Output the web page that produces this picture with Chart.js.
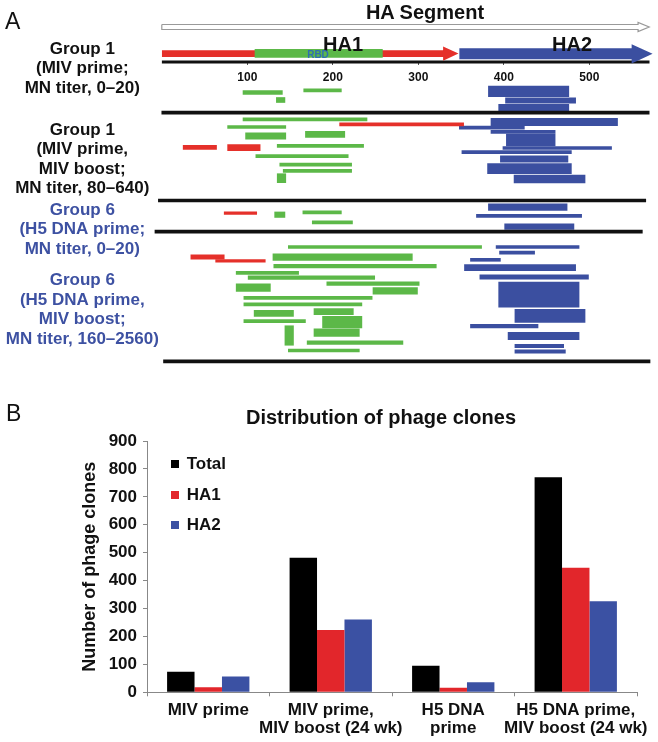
<!DOCTYPE html>
<html>
<head>
<meta charset="utf-8">
<script src="https://cdn.jsdelivr.net/npm/chart.js@4.4.1/dist/chart.umd.min.js"></script>
<style>
  html, body { margin: 0; padding: 0; background: #fff; width: 658px; height: 742px; overflow: hidden; }
  body { position: relative; font-family: "Liberation Sans", Arial, sans-serif; color: #111; }
  #mapBox { position: absolute; left: 0; top: 0; width: 658px; height: 370px; }
  #barBox { position: absolute; left: 0; top: 370px; width: 700px; height: 372px; }
  .note { position: absolute; white-space: nowrap; }
  .mid { transform: translateX(-50%); }
  #legend { position: absolute; left: 171px; top: 455px; font-weight: bold; font-size: 17px; }
  #legend div { height: 17px; line-height: 17px; margin-bottom: 13.5px; white-space: nowrap; }
  #legend span { display: inline-block; width: 8px; height: 8px; margin-right: 7.7px; vertical-align: 1px; }
</style>
</head>
<body>
<div id="mapBox"><canvas id="mapChart"></canvas></div>
<div id="barBox"><canvas id="barChart"></canvas></div>

<div class="note" style="left:5px;top:10px;font-size:23px;line-height:23px">A</div>
<div class="note" style="left:6px;top:402px;font-size:23px;line-height:23px">B</div>
<div class="note mid" style="left:425px;top:2px;font-size:20px;line-height:20px;font-weight:bold">HA Segment</div>
<div class="note mid" style="left:343px;top:34px;font-size:20px;line-height:20px;font-weight:bold">HA1</div>
<div class="note mid" style="left:572px;top:34px;font-size:20px;line-height:20px;font-weight:bold">HA2</div>
<div class="note mid" style="left:318px;top:50px;font-size:10px;line-height:10px;font-weight:bold;color:#2f6fb0">RBD</div>
<div id="legend"></div>

<script>
// ---- Panel A: HA segment map ----
const mapTicks = [100, 200, 300, 400, 500];
const mapMax = 576;

// domains along the HA segment (residues)
const haSegment = [0, 570];
const ha1Domain = [0, 347];
const rbdDomain = [109, 258];
const ha2Domain = [348, 574];

// group labels and the row they are centred on
const groupNames = [
    ['Group 1', '(MIV prime;', 'MN titer, 0–20)'],
    ['Group 1', '(MIV prime,', 'MIV boost;', 'MN titer, 80–640)'],
    ['Group 6', '(H5 DNA prime;', 'MN titer, 0–20)'],
    ['Group 6', '(H5 DNA prime,', 'MIV boost;', 'MN titer, 160–2560)']
];
const groupRows = [68.5, 159.3, 229.5, 310];
const groupIsDna = [false, false, true, true];

// dividers between groups: [from, to, row]
const dividers = [[0, 570, 112.7], [-4, 566, 200.5], [-8, 562, 231.7], [2, 571, 361.3]];

// mapped phage clones: [from residue, to residue, row, weight]
const ha1Clones = [
    // group 1, MIV prime + boost
    [208, 353, 124.3, 3], [25, 64, 147.3, 4], [77, 115, 147.7, 6],
    // group 6, DNA prime
    [73, 111, 213.2, 2.5],
    // group 6, DNA prime + MIV boost
    [34, 73, 257, 4.5], [63, 121, 260.8, 2.5]
];
const rbdClones = [
    // group 1, MIV prime
    [95, 141, 92.5, 4], [166, 210, 90.3, 3], [134, 144, 100, 5],
    // group 1, MIV prime + boost
    [95, 240, 119.3, 3], [77, 145, 127, 3], [98, 145, 136, 6.5], [168, 214, 134.3, 6],
    [135, 236, 145.8, 3], [110, 218, 156.2, 3], [138, 222, 164.7, 3], [142, 222, 170.8, 3],
    [135, 145, 178.2, 9],
    // group 6, DNA prime
    [132, 144, 214.7, 5.5], [165, 210, 212.3, 3], [176, 223, 222.3, 3],
    // group 6, DNA prime + MIV boost
    [148, 374, 247, 3], [130, 293, 257.2, 6.5], [131, 321, 266.2, 3.5], [87, 160, 272.8, 3],
    [101, 249, 277.7, 3.5], [193, 301, 283.7, 3.5], [87, 127, 287.7, 7.5], [247, 299, 290.8, 6.5],
    [96, 246, 297.8, 3], [96, 234, 304.3, 3], [108, 154, 313.3, 6], [178, 224, 311.7, 6],
    [96, 168, 321.2, 3], [188, 234, 322.2, 11.5], [144, 154, 335.5, 19.5], [178, 231, 332.7, 7.5],
    [170, 282, 342.7, 3.5], [148, 231, 350.5, 3]
];
const ha2Clones = [
    // group 1, MIV prime
    [382, 476, 91.3, 10.5], [402, 484, 100.5, 5.5], [394, 476, 107.7, 6.5],
    // group 1, MIV prime + boost
    [385, 533, 122, 7.5], [348, 424, 127.7, 3], [385, 460, 131.8, 3], [403, 460, 140, 12],
    [399, 526, 148, 3], [351, 479, 152.2, 3], [396, 475, 159, 6.5], [381, 479, 168.7, 10],
    [412, 495, 179, 8],
    // group 6, DNA prime
    [382, 474, 207.2, 6.5], [368, 491, 215.8, 3], [401, 482, 226.7, 5.5],
    // group 6, DNA prime + MIV boost
    [391, 488, 247, 3], [395, 436, 252.7, 3], [361, 396, 259.8, 3], [354, 484, 267.7, 6],
    [372, 499, 277, 4.5], [394, 488, 294.7, 25], [413, 495, 315.8, 13], [361, 440, 326.2, 3.5],
    [405, 488, 336, 7.5], [413, 470, 346, 3.5], [413, 472, 351.5, 3.5]
];

// ---- Panel B: distribution of phage clones ----
const regimens = [
    ['MIV prime'],
    ['MIV prime,', 'MIV boost (24 wk)'],
    ['H5 DNA', 'prime'],
    ['H5 DNA prime,', 'MIV boost (24 wk)']
];
const totalClones = [74, 482, 95, 770];
const ha1Counts = [18, 223, 16, 446];
const ha2Counts = [57, 261, 36, 326];
const countMax = 900;
const countStep = 100;

const RED = '#e5302a';
const GREEN = '#5cb848';
const BLUE = '#3b4fa0';
const DNA_TEXT = '#3d51a2';

Chart.defaults.font.family = '"Liberation Sans", Arial, sans-serif';
Chart.defaults.color = '#111';

// one bar dataset per line weight (bar thickness is per dataset)
function cloneSets(list, color) {
    const byWeight = new Map();
    list.forEach(([from, to, row, weight]) => {
        if (!byWeight.has(weight)) byWeight.set(weight, []);
        byWeight.get(weight).push({ x: [from, to], y: row });
    });
    return [...byWeight].map(([weight, data]) => ({
        type: 'bar', data, backgroundColor: color, barThickness: weight,
        grouped: false, borderWidth: 0, clip: false
    }));
}

// closed arrow outline for a domain
function arrowShape(range, mid, shaftHalf, headHalf, headLen) {
    const [from, to] = range;
    const base = to - headLen;
    return [
        { x: from, y: mid - shaftHalf }, { x: base, y: mid - shaftHalf }, { x: base, y: mid - headHalf },
        { x: to, y: mid }, { x: base, y: mid + headHalf }, { x: base, y: mid + shaftHalf },
        { x: from, y: mid + shaftHalf }, { x: from, y: mid - shaftHalf }
    ];
}

function shapeSet(points, fillColor, lineColor, lineWidth) {
    return {
        type: 'line', data: points, fill: 'shape', backgroundColor: fillColor,
        borderColor: lineColor, borderWidth: lineWidth, pointRadius: 0, tension: 0, clip: false
    };
}

const mapDatasets = [
    { type: 'bar', data: [{ x: rbdDomain, y: 53.3 }], backgroundColor: GREEN, barThickness: 8, grouped: false, borderWidth: 0 },
    shapeSet(arrowShape(ha1Domain, 53.6, 3.4, 7.2, 18), RED, RED, 0),
    shapeSet(arrowShape(ha2Domain, 53.8, 5.5, 9.6, 24.5), BLUE, BLUE, 0),
    shapeSet(arrowShape(haSegment, 27, 2.5, 4.5, 13), '#fff', '#9a9a9a', 1.2),
    { type: 'bar', data: [{ x: haSegment, y: 62 }], backgroundColor: '#111', barThickness: 2.5, grouped: false, borderWidth: 0 },
    { type: 'bar', data: dividers.map(([from, to, row]) => ({ x: [from, to], y: row })),
      backgroundColor: '#111', barThickness: 3, grouped: false, borderWidth: 0, clip: false },
    ...cloneSets(rbdClones, GREEN),
    ...cloneSets(ha1Clones, RED),
    ...cloneSets(ha2Clones, BLUE)
];

new Chart(document.getElementById('mapChart'), {
    type: 'bar',
    data: { datasets: mapDatasets },
    options: {
        indexAxis: 'y',
        responsive: true,
        maintainAspectRatio: false,
        animation: false,
        layout: { padding: { left: 0, right: 3.7, top: 0, bottom: 0 } },
        plugins: { legend: { display: false }, tooltip: { enabled: false } },
        scales: {
            x: {
                type: 'linear', min: 0, max: mapMax, position: { y: 62 },
                afterBuildTicks: s => { s.ticks = mapTicks.map(v => ({ value: v })); },
                afterFit: s => { s.height = 0; s.paddingLeft = 0; s.paddingRight = 0; },
                grid: { display: true, drawOnChartArea: false, drawTicks: true, tickLength: 3, color: '#555', lineWidth: 1 },
                border: { display: false },
                ticks: { autoSkip: false, maxRotation: 0, padding: 5, color: '#111', font: { size: 12, weight: 'bold' } }
            },
            y: {
                type: 'linear', min: 0, max: 370, reverse: true, offset: false,
                afterBuildTicks: s => { s.ticks = groupRows.map(v => ({ value: v })); },
                afterFit: s => { s.width = 161.8; s.paddingTop = 0; s.paddingBottom = 0; },
                grid: { display: false, drawTicks: false },
                border: { display: false },
                ticks: {
                    autoSkip: false, crossAlign: 'center', padding: 3,
                    callback: (v, i) => groupNames[i],
                    color: c => groupIsDna[c.index] ? DNA_TEXT : '#111',
                    font: { size: 17, weight: 'bold', lineHeight: 1.15 }
                }
            }
        }
    }
});

// html legend built from the chart's datasets
const htmlLegend = {
    id: 'htmlLegend',
    afterUpdate(chart) {
        const box = document.getElementById('legend');
        box.innerHTML = '';
        chart.data.datasets.forEach(ds => {
            const row = document.createElement('div');
            const swatch = document.createElement('span');
            swatch.style.background = ds.backgroundColor;
            row.appendChild(swatch);
            row.appendChild(document.createTextNode(ds.label));
            box.appendChild(row);
        });
    }
};

new Chart(document.getElementById('barChart'), {
    type: 'bar',
    data: {
        labels: regimens,
        datasets: [
            { label: 'Total', data: totalClones, backgroundColor: '#000' },
            { label: 'HA1', data: ha1Counts, backgroundColor: '#e2262b' },
            { label: 'HA2', data: ha2Counts, backgroundColor: '#3b51a3' }
        ]
    },
    plugins: [htmlLegend],
    options: {
        responsive: true,
        maintainAspectRatio: false,
        animation: false,
        datasets: { bar: { categoryPercentage: 0.672, barPercentage: 1, borderWidth: 0 } },
        layout: { padding: { left: 75, right: 13, top: 30, bottom: 0 } },
        plugins: {
            title: {
                display: true, text: 'Distribution of phage clones', color: '#111',
                font: { size: 20, weight: 'bold' }, padding: { top: 6, bottom: 11 }
            },
            legend: { display: false },
            tooltip: { enabled: false }
        },
        scales: {
            x: {
                afterFit: s => { s.height = 49.7; },
                grid: { display: true, drawOnChartArea: false, tickLength: 4, color: '#888' },
                border: { color: '#888' },
                ticks: { autoSkip: false, maxRotation: 0, padding: 4.5, color: '#111', font: { size: 17, weight: 'bold', lineHeight: 1.08 } }
            },
            y: {
                min: 0, max: countMax,
                afterFit: s => { s.width = 72; },
                grid: { display: true, drawOnChartArea: false, tickLength: 4, color: '#888' },
                border: { color: '#888' },
                ticks: { stepSize: countStep, padding: 6, color: '#111', font: { size: 17, weight: 'bold' } },
                title: {
                    display: true, text: 'Number of phage clones', color: '#111',
                    font: { size: 18, weight: 'bold' }, padding: { top: 4, bottom: 8 }
                }
            },
            // empty right gutter so the full-width title sits where the original has it
            gutter: {
                type: 'linear', position: 'right', display: true,
                grid: { display: false, drawTicks: false }, border: { display: false }, ticks: { display: false },
                afterFit: s => { s.width = 50; }
            }
        }
    }
});
</script>
</body>
</html>
